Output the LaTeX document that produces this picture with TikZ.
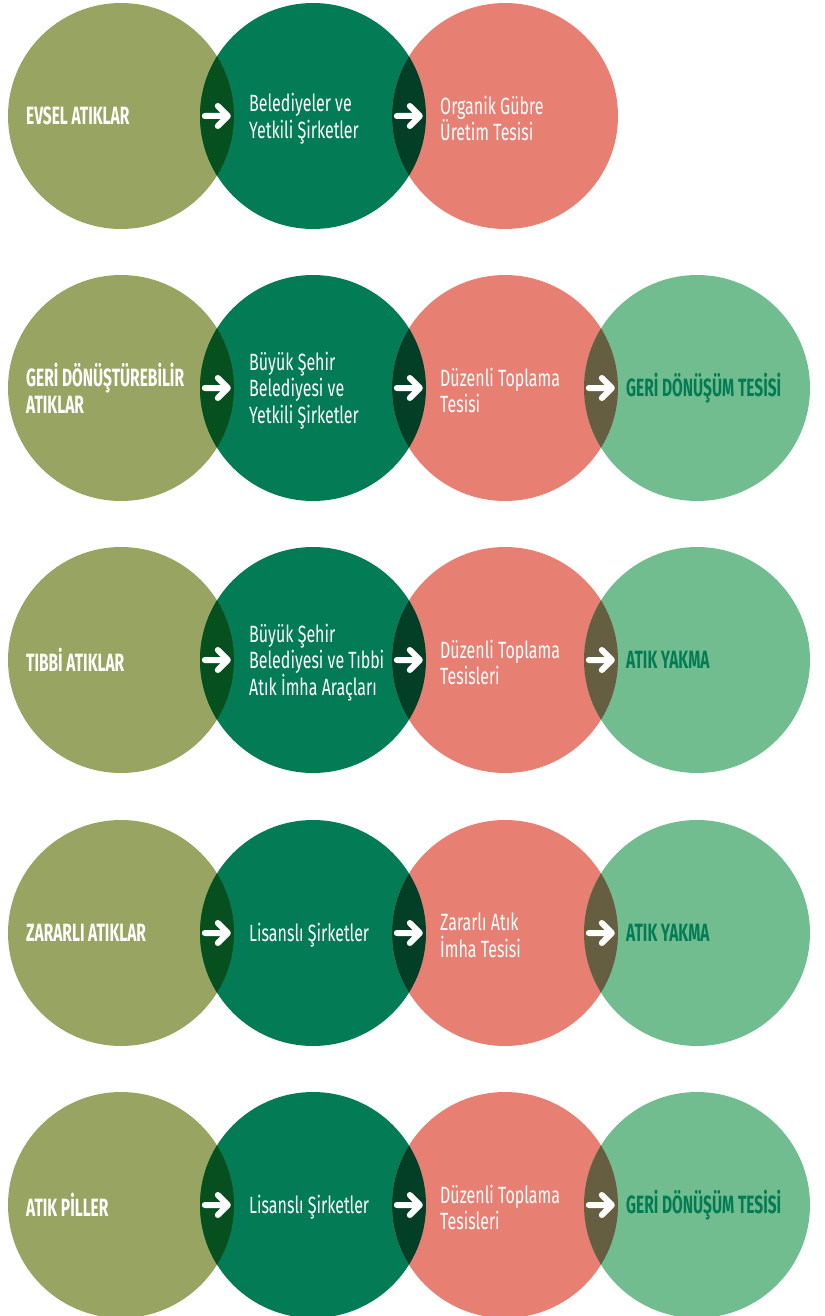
\documentclass[tikz,border=0pt]{standalone}
\usepackage{fontspec}
\setmainfont{Fira Sans}[FakeStretch=0.68, BoldFeatures={FakeStretch=0.62}]

\definecolor{cOlive}{HTML}{98A562}
\definecolor{cGreen}{HTML}{037C56}
\definecolor{cSalmon}{HTML}{E78073}
\definecolor{cMint}{HTML}{72BD8F}
\definecolor{cLensA}{HTML}{06501F}
\definecolor{cLensB}{HTML}{033F27}
\definecolor{cLensC}{HTML}{665E40}

\tikzset{
  disc/.style={circle, minimum size=226pt, inner sep=0pt, draw=none},
  head/.style={font=\bfseries\fontsize{25}{27}\selectfont, text=white, align=left, inner sep=0pt, anchor=west},
  goal/.style={head, text=cGreen},
  body/.style={font=\fontsize{23.5}{26.5}\selectfont, text=white, align=left, inner sep=0pt, anchor=west, yshift=-2.5pt},
  flowarrow/.pic={
    \draw[white, line width=6pt, line cap=round, line join=round]
      (0,0) -- (23,0) (13,-10) -- (23,0) -- (13,10);
  }
}

% lens between two touching discs: clip to the first, refill the second
\newcommand{\lens}[3]{%
  \begin{scope}
    \clip (#1.center) circle[radius=113];
    \fill[#3] (#2.center) circle[radius=113];
  \end{scope}}

\begin{document}
\begin{tikzpicture}[x=1pt,y=-1pt]
\useasboundingbox (0,0) rectangle (824,1316);

% ---------- discs ----------
\node[disc, fill=cOlive]  (a1) at (121,116) {};
\node[disc, fill=cGreen]  (b1) at (313,116) {};
\node[disc, fill=cSalmon] (c1) at (505,116) {};

\foreach \r/\yy in {2/388, 3/660, 4/933, 5/1205}{
  \node[disc, fill=cOlive]  (a\r) at (121,\yy) {};
  \node[disc, fill=cGreen]  (b\r) at (313,\yy) {};
  \node[disc, fill=cSalmon] (c\r) at (505,\yy) {};
  \node[disc, fill=cMint]   (d\r) at (697,\yy) {};
}

% ---------- overlaps ----------
\foreach \r in {1,...,5}{
  \lens{a\r}{b\r}{cLensA}
  \lens{b\r}{c\r}{cLensB}
}
\foreach \r in {2,...,5}{
  \lens{c\r}{d\r}{cLensC}
}

% ---------- arrows ----------
\foreach \r in {1,...,5}{
  \pic at ([xshift=5pt]b\r.west) {flowarrow};
  \pic at ([xshift=5pt]c\r.west) {flowarrow};
}
\foreach \r in {2,...,5}{
  \pic at ([xshift=5pt]d\r.west) {flowarrow};
}

% ---------- row 1 ----------
\node[head] (ta1) at (26,116) {EVSEL ATIKLAR};
\node[body] (tb1) at (249,116) {Belediyeler ve\\Yetkili Şirketler};
\node[body] (tc1) at (440,116) {Organik Gübre\\Üretim Tesisi};

% ---------- row 2 ----------
\node[head] (ta2) at (26,388) {GERİ DÖNÜŞTÜREBİLİR\\ATIKLAR};
\node[body] (tb2) at (249,388) {Büyük Şehir\\Belediyesi ve\\Yetkili Şirketler};
\node[body] (tc2) at (440,388) {Düzenli Toplama\\Tesisi};
\node[goal] (td2) at (626,388) {GERİ DÖNÜŞÜM TESİSİ};

% ---------- row 3 ----------
\node[head] (ta3) at (26,660) {TIBBİ ATIKLAR};
\node[body] (tb3) at (249,660) {Büyük Şehir\\Belediyesi ve Tıbbi\\Atık İmha Araçları};
\node[body] (tc3) at (440,660) {Düzenli Toplama\\Tesisleri};
\node[goal] (td3) at (626,660) {ATIK YAKMA};

% ---------- row 4 ----------
\node[head] (ta4) at (26,933) {ZARARLI ATIKLAR};
\node[body] (tb4) at (249,933) {Lisanslı Şirketler};
\node[body] (tc4) at (440,933) {Zararlı Atık\\İmha Tesisi};
\node[goal] (td4) at (626,933) {ATIK YAKMA};

% ---------- row 5 ----------
\node[head] (ta5) at (26,1205) {ATIK PİLLER};
\node[body] (tb5) at (249,1205) {Lisanslı Şirketler};
\node[body] (tc5) at (440,1205) {Düzenli Toplama\\Tesisleri};
\node[goal] (td5) at (626,1205) {GERİ DÖNÜŞÜM TESİSİ};

\end{tikzpicture}
\end{document}
